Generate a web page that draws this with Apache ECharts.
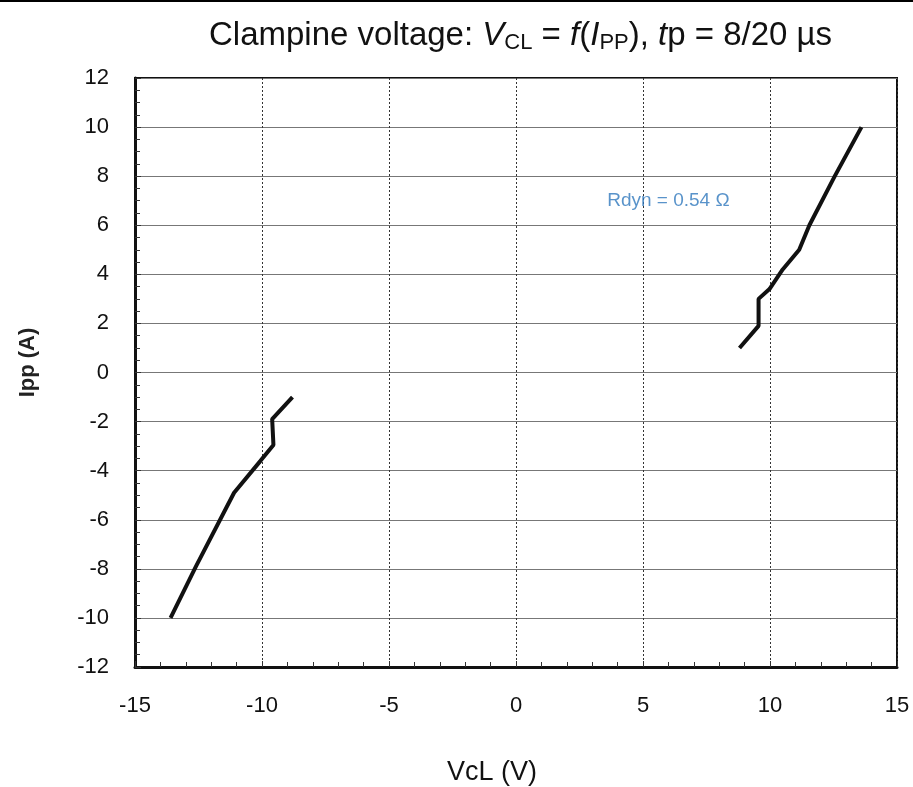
<!DOCTYPE html>
<html>
<head>
<meta charset="utf-8">
<script src="https://cdn.jsdelivr.net/npm/echarts@6/dist/echarts.min.js"></script>
<style>html,body{margin:0;padding:0;background:#fff;}#c{width:913px;height:787px;}</style>
</head>
<body>
<div id="c"></div>
<script>
// Reverse-direction curve (negative quadrant): [V, I]
const negVcl = [-8.8, -9.6, -9.55, -10.06, -11.1, -12.6, -13.6];
const negIpp = [-1.0, -1.9, -2.95, -3.6, -4.9, -7.9, -10.0];
// Forward-direction curve (positive quadrant)
const posVcl = [8.8, 9.55, 9.55, 9.98, 10.5, 11.15, 11.55, 12.55, 13.6];
const posIpp = [1.0, 1.9, 3.0, 3.4, 4.2, 5.0, 6.0, 8.0, 10.0];
const xTicks = [-15, -10, -5, 0, 5, 10, 15];
const yTicks = [-12, -10, -8, -6, -4, -2, 0, 2, 4, 6, 8, 10, 12];
const noteText = 'Rdyn = 0.54 Ω';
const notePos = [6.0, 7.0];

const zip = (xs, ys) => xs.map((x, i) => [x, ys[i]]);
const chart = echarts.init(document.getElementById('c'));
const FONT = '"Liberation Sans", Arial, sans-serif';

chart.setOption({
  animation: false,
  backgroundColor: '#fff',
  title: {
    left: 204, top: 13,
    text: '{n|Clampine voltage: }{i|V}{s|CL}{n| = }{i|f}{n|(}{i|I}{s|PP}{n|), }{i|t}{n|p = 8/20 µs}',
    textStyle: {
      fontFamily: FONT, fontWeight: 'normal',
      rich: {
        n: {fontSize: 33, color: '#111', fontFamily: FONT, fontWeight: 'normal'},
        i: {fontSize: 33, color: '#111', fontStyle: 'italic', fontFamily: FONT, fontWeight: 'normal'},
        s: {fontSize: 22, color: '#111', fontFamily: FONT, fontWeight: 'normal', padding: [14, 0, 0, 0]}
      }
    }
  },
  graphic: [{type: 'rect', shape: {x: 0, y: 0, width: 913, height: 2}, style: {fill: '#000'}}],
  grid: {left: 135, right: 16, top: 78, bottom: 120, outerBoundsMode: 'none', containLabel: false,
         show: true, borderColor: '#111', borderWidth: 2, backgroundColor: '#fff'},
  xAxis: {
    type: 'value', min: xTicks[0], max: xTicks[xTicks.length - 1], interval: 5,
    name: 'VcL (V)', nameLocation: 'middle', nameGap: 92,
    nameTextStyle: {fontSize: 27, color: '#111', fontFamily: FONT, padding: [0, 48, 0, 0]},
    axisLine: {show: true, onZero: false, lineStyle: {color: '#111', width: 3}},
    axisTick: {show: true, inside: true, length: 6, lineStyle: {color: '#333'}},
    minorTick: {show: true, splitNumber: 5, length: 5, lineStyle: {color: '#333'}},
    axisLabel: {fontSize: 22, color: '#111', margin: 28, fontFamily: FONT},
    splitLine: {show: true, lineStyle: {color: '#333', type: [2, 2], width: 1}}
  },
  yAxis: {
    type: 'value', min: yTicks[0], max: yTicks[yTicks.length - 1], interval: 2,
    name: 'Ipp (A)', nameLocation: 'middle', nameGap: 96, nameRotate: 90,
    nameTextStyle: {fontSize: 22, fontWeight: 'bold', color: '#222', fontFamily: FONT, padding: [0, 0, 0, 20]},
    axisLine: {show: true, onZero: false, lineStyle: {color: '#111', width: 3}},
    axisTick: {show: true, inside: true, length: 6, lineStyle: {color: '#333'}},
    minorTick: {show: true, splitNumber: 4, length: 5, lineStyle: {color: '#333'}},
    axisLabel: {fontSize: 22, color: '#111', margin: 26, fontFamily: FONT},
    splitLine: {show: true, lineStyle: {color: '#777', width: 1}}
  },
  series: [
    {type: 'line', data: zip(negVcl, negIpp), symbol: 'none', lineStyle: {color: '#111', width: 4}},
    {type: 'line', data: zip(posVcl, posIpp), symbol: 'none', lineStyle: {color: '#111', width: 4}},
    {type: 'scatter', data: [notePos], symbolSize: 0,
     label: {show: true, position: 'inside', formatter: noteText, fontSize: 19, color: '#2f78bd', fontFamily: FONT}}
  ]
});
</script>
</body>
</html>
